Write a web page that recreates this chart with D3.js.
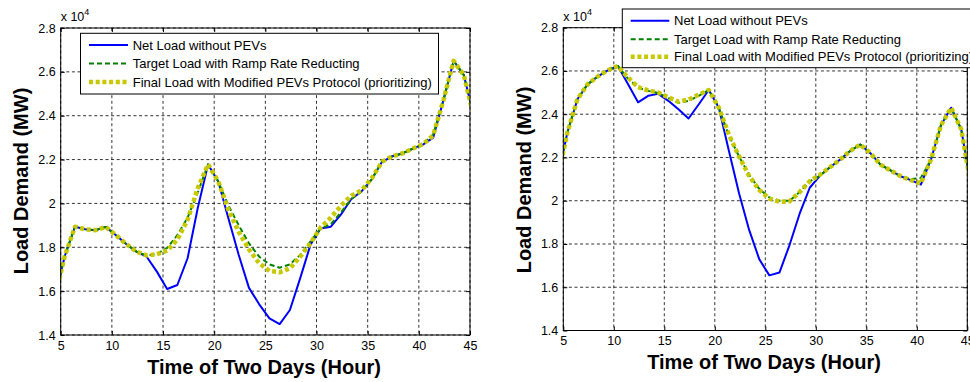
<!DOCTYPE html>
<html><head><meta charset="utf-8">
<script src="https://cdn.jsdelivr.net/npm/d3@7"></script>
<style>body{margin:0;background:#fff}svg{display:block}</style>
</head><body>
<svg id="c" width="970" height="382"></svg>
<script>
// hours (x values of the data points)
const hours = [4.4,5.4,6.4,7.4,8.4,9.4,10.4,11.4,12.4,13.4,14.4,15.4,16.4,17.4,18.4,19.4,20.4,21.4,22.4,23.4,24.4,25.4,26.4,27.4,28.4,29.4,30.4,31.4,32.4,33.4,34.4,35.4,36.4,37.4,38.4,39.4,40.4,41.4,42.4,43.4,44.4,45.4];
const xTicks = [5,10,15,20,25,30,35,40,45];
const yTicks = [1.4,1.6,1.8,2,2.2,2.4,2.6,2.8];
const yTickLabels = ["1.4","1.6","1.8","2","2.2","2.4","2.6","2.8"];
const seriesNames = ["Net Load without PEVs","Target Load with Ramp Rate Reducting","Final Load with Modified PEVs Protocol (prioritizing)"];
// values in units of 10^4 MW
const leftNet = [1.565,1.76,1.894,1.882,1.878,1.893,1.855,1.815,1.78,1.757,1.689,1.61,1.628,1.75,1.98,2.178,2.10,1.93,1.765,1.615,1.54,1.476,1.45,1.514,1.658,1.81,1.886,1.894,1.95,2.02,2.055,2.11,2.19,2.215,2.228,2.25,2.268,2.30,2.47,2.65,2.585,2.39];
const leftTarget = [1.565,1.76,1.894,1.882,1.878,1.893,1.855,1.815,1.78,1.762,1.77,1.797,1.855,1.935,2.05,2.178,2.10,1.99,1.90,1.818,1.757,1.722,1.707,1.722,1.765,1.826,1.886,1.905,1.96,2.02,2.055,2.11,2.19,2.215,2.228,2.25,2.27,2.315,2.47,2.65,2.585,2.39];
const leftFinal = [1.565,1.76,1.894,1.882,1.878,1.893,1.855,1.815,1.78,1.763,1.768,1.785,1.835,1.925,2.07,2.178,2.10,1.97,1.87,1.79,1.727,1.692,1.686,1.704,1.757,1.818,1.89,1.935,1.99,2.035,2.06,2.115,2.19,2.215,2.228,2.25,2.27,2.31,2.47,2.65,2.585,2.39];
const rightNet = [2.09,2.315,2.469,2.538,2.574,2.603,2.623,2.54,2.455,2.485,2.494,2.462,2.423,2.38,2.445,2.512,2.43,2.23,2.035,1.865,1.73,1.655,1.668,1.795,1.94,2.06,2.115,2.155,2.19,2.23,2.26,2.22,2.167,2.14,2.113,2.095,2.075,2.19,2.35,2.43,2.33,2.06];
const rightTarget = [2.09,2.315,2.469,2.538,2.574,2.603,2.623,2.565,2.523,2.508,2.498,2.475,2.452,2.462,2.485,2.512,2.43,2.30,2.205,2.12,2.055,2.015,2.0,2.0,2.04,2.09,2.115,2.155,2.19,2.23,2.26,2.22,2.167,2.14,2.113,2.1,2.105,2.19,2.35,2.43,2.33,2.06];
const rightFinal = [2.09,2.315,2.469,2.538,2.574,2.603,2.623,2.57,2.525,2.51,2.5,2.478,2.458,2.468,2.49,2.512,2.43,2.305,2.205,2.115,2.05,2.01,1.995,1.997,2.04,2.09,2.12,2.155,2.19,2.23,2.26,2.22,2.167,2.14,2.113,2.095,2.08,2.19,2.35,2.43,2.33,2.06];

const FONT = "'Liberation Sans', Arial, Helvetica, sans-serif";
const styles = [
  {color:"#0000ff", width:2, dash:null},
  {color:"#008000", width:2, dash:"5,3"},
  {color:"#c8c800", width:4.5, dash:"4,2.7"}
];
const svg = d3.select("#c");

function panel(id, box, data, leg, lab) {
  const x = d3.scaleLinear().domain([5,45]).range([box.x0, box.x1]);
  const y = d3.scaleLinear().domain([1.4,2.8]).range([box.y1, box.y0]);
  const g = svg.append("g");
  g.append("rect").attr("x",box.x0).attr("y",box.y0).attr("width",box.x1-box.x0).attr("height",box.y1-box.y0).attr("fill","#fff");
  // grid
  g.selectAll(".gx").data(xTicks).join("line").attr("x1",d=>x(d)).attr("x2",d=>x(d)).attr("y1",box.y0).attr("y2",box.y1)
    .attr("stroke","#000").attr("stroke-width",0.8).attr("stroke-dasharray","3,2.6");
  g.selectAll(".gy").data(yTicks).join("line").attr("y1",d=>y(d)).attr("y2",d=>y(d)).attr("x1",box.x0).attr("x2",box.x1)
    .attr("stroke","#000").attr("stroke-width",0.8).attr("stroke-dasharray","3,2.6");
  // clip
  svg.append("clipPath").attr("id",id).append("rect").attr("x",box.x0).attr("y",box.y0).attr("width",box.x1-box.x0).attr("height",box.y1-box.y0);
  const line = d3.line().x((d,i)=>x(hours[i])).y(d=>y(d));
  const lg = g.append("g").attr("clip-path",`url(#${id})`);
  data.forEach((s,k)=>{
    lg.append("path").attr("d",line(s)).attr("fill","none").attr("stroke",styles[k].color)
      .attr("stroke-width",styles[k].width).attr("stroke-dasharray",styles[k].dash).attr("stroke-linejoin","round");
  });
  // axes
  const ax = g.append("g").attr("transform",`translate(0,${box.y1})`).call(d3.axisBottom(x).tickValues(xTicks).tickSizeInner(-4).tickSizeOuter(0).tickPadding(6));
  const ay = g.append("g").attr("transform",`translate(${box.x0},0)`).call(d3.axisLeft(y).tickValues(yTicks).tickFormat((d,i)=>yTickLabels[i]).tickSizeInner(-4).tickSizeOuter(0).tickPadding(5));
  [ax,ay].forEach(a=>{a.select(".domain").remove(); a.selectAll("text").attr("font-family",FONT).attr("font-size",12.5).attr("fill","#000");
    a.selectAll("line").attr("stroke","#000");});
  g.append("g").attr("transform",`translate(0,${box.y0})`).call(d3.axisTop(x).tickValues(xTicks).tickSizeInner(-4).tickSizeOuter(0).tickFormat(""))
    .call(a=>a.select(".domain").remove());
  g.append("g").attr("transform",`translate(${box.x1},0)`).call(d3.axisRight(y).tickValues(yTicks).tickSizeInner(-4).tickSizeOuter(0).tickFormat(""))
    .call(a=>a.select(".domain").remove());
  g.append("rect").attr("x",box.x0).attr("y",box.y0).attr("width",box.x1-box.x0).attr("height",box.y1-box.y0)
    .attr("fill","none").attr("stroke","#000").attr("stroke-width",1);
  // exponent
  const ex = g.append("text").attr("x",box.x0).attr("y",box.y0-7).attr("font-family",FONT).attr("font-size",12.5);
  ex.append("tspan").text("x 10");
  ex.append("tspan").attr("dy",-6).attr("font-size",9).text("4");
  // labels
  g.append("text").attr("x",lab.xx).attr("y",lab.xy).attr("text-anchor","middle").attr("font-family",FONT)
    .attr("font-weight","bold").attr("font-size",20).text("Time of Two Days (Hour)");
  g.append("text").attr("transform",`translate(${lab.yx},${lab.yy}) rotate(-90)`).attr("text-anchor","middle").attr("font-family",FONT)
    .attr("font-weight","bold").attr("font-size",20).text("Load Demand (MW)");
  // legend
  const L = svg.append("g");
  L.append("rect").attr("x",leg.x).attr("y",leg.y).attr("width",leg.w).attr("height",leg.h).attr("fill","#fff").attr("stroke","#000").attr("stroke-width",1);
  seriesNames.forEach((n,k)=>{
    const ry = leg.rows[k];
    L.append("line").attr("x1",leg.sx0).attr("x2",leg.sx1).attr("y1",ry).attr("y2",ry).attr("stroke",styles[k].color)
      .attr("stroke-width",styles[k].width).attr("stroke-dasharray",styles[k].dash);
    L.append("text").attr("x",leg.tx).attr("y",ry).attr("dy","0.36em").attr("font-family",FONT).attr("font-size",13).text(n);
  });
}

panel("clipL", {x0:60.7,x1:470,y0:28,y1:335}, [leftNet,leftTarget,leftFinal],
  {x:80.5,y:33.3,w:358,h:60.7,sx0:89,sx1:128,tx:132.7,rows:[45,63.5,82]},
  {xx:264,xy:374,yx:28,yy:181});
panel("clipR", {x0:563.3,x1:967.3,y0:27.7,y1:330.5}, [rightNet,rightTarget,rightFinal],
  {x:622.3,y:9,w:360,h:58.7,sx0:630.7,sx1:669.3,tx:674,rows:[20.7,39.3,56.7]},
  {xx:764,xy:369,yx:530.5,yy:180});
</script>
</body></html>
